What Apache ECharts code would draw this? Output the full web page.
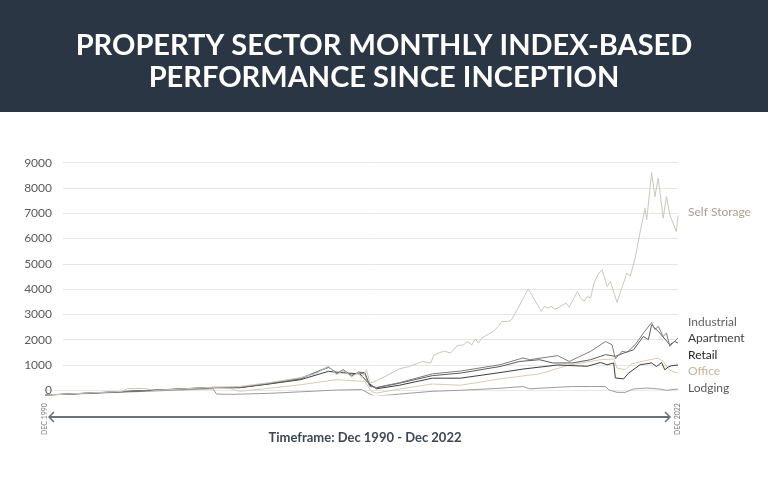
<!DOCTYPE html>
<html>
<head>
<meta charset="utf-8">
<script src="https://cdn.jsdelivr.net/npm/echarts@6/dist/echarts.min.js"></script>
<style>
html,body{margin:0;padding:0;background:#fff;}
#chart{width:768px;height:479px;}
</style>
</head>
<body>
<div id="chart"></div>
<script>
// x = months since Dec 1990 (0 .. 384 = Dec 2022)
var titleLines = ['PROPERTY SECTOR MONTHLY INDEX-BASED', 'PERFORMANCE SINCE INCEPTION'];
var yTicks = [0, 1000, 2000, 3000, 4000, 5000, 6000, 7000, 8000, 9000];
var seriesNames = ['Self Storage', 'Industrial', 'Apartment', 'Retail', 'Office', 'Lodging'];
var startLabel = 'DEC 1990';
var endLabel = 'DEC 2022';
var timeframe = 'Timeframe: Dec 1990 - Dec 2022';

var selfStorage = [[0,-190],[47,-40],[50,70],[60,70],[67,-5],[102,120],[118,150],[136,300],[155,500],[164,650],[172,950],[177,620],[181,800],[186,530],[190,700],[192,500],[195,820],[197,300],[199,320],[205,500],[215,850],[221,940],[229,1140],[234,1080],[236,1400],[242,1550],[246,1470],[250,1760],[254,1800],[256,1930],[259,1800],[261,2030],[263,1870],[265,2070],[272,2330],[275,2530],[277,2720],[281,2720],[283,2790],[287,3250],[293,4000],[294,3910],[297,3580],[301,3120],[303,3320],[305,3250],[307,3320],[309,3210],[311,3250],[316,3450],[318,3290],[323,3910],[325,3650],[327,3510],[329,3710],[331,3650],[333,4240],[336,4640],[338,4770],[341,4100],[343,4300],[347,3480],[353,4640],[355,4500],[358,5230],[361,6250],[364,7200],[365,6740],[368,8600],[370,7660],[372,8390],[375,6810],[377,7660],[379,6940],[380,7010],[383,6280],[384,6900]];
var industrial = [[0,-190],[102,110],[118,120],[136,280],[155,480],[172,900],[177,700],[181,780],[186,600],[190,680],[194,650],[197,150],[201,110],[215,300],[235,650],[252,760],[276,1010],[290,1280],[294,1210],[311,1370],[318,1140],[331,1540],[340,1930],[344,1800],[346,1240],[350,1540],[353,1500],[358,1800],[363,2260],[368,2680],[370,2400],[372,2530],[375,2130],[377,2260],[379,1740],[381,1870],[384,2070]];
var apartment = [[0,-190],[102,100],[118,110],[136,260],[155,450],[172,930],[177,650],[181,820],[186,560],[190,720],[194,700],[197,200],[201,100],[215,280],[235,580],[252,680],[276,940],[288,1140],[300,1210],[308,1080],[320,1080],[331,1210],[340,1410],[346,1340],[351,1470],[357,1600],[363,2130],[366,2000],[368,2590],[373,2260],[379,1800],[382,1930],[384,1870]];
var retail = [[0,-190],[102,115],[118,100],[136,250],[155,420],[172,750],[179,700],[191,650],[196,300],[201,60],[215,200],[235,480],[252,480],[276,700],[290,840],[311,1000],[329,950],[337,1100],[341,1010],[345,1080],[346,490],[351,450],[354,680],[361,1010],[368,1080],[371,940],[374,1100],[376,810],[378,920],[380,970],[384,1000]];
var office = [[0,-190],[102,100],[112,80],[118,-40],[136,80],[155,220],[177,420],[194,350],[198,-50],[201,-110],[215,50],[235,250],[252,200],[276,450],[300,650],[318,1000],[331,1140],[337,1210],[345,1240],[347,880],[352,810],[356,1050],[367,1210],[372,1270],[375,1140],[379,790],[384,680]];
var lodging = [[0,-190],[102,60],[104,-150],[114,-160],[136,-120],[155,-60],[177,10],[192,30],[200,-240],[215,-150],[235,-40],[252,0],[276,80],[290,150],[294,60],[320,150],[331,150],[340,150],[342,20],[347,-80],[352,-80],[357,50],[365,90],[373,50],[377,0],[384,50]];

var allData = [selfStorage, industrial, apartment, retail, office, lodging];
var lineColors = ['#cbc6bf', '#7e7e7e', '#5c5c5c', '#3c3c3c', '#d9cbb2', '#9c9c9c'];
var labelColors = ['#ab9f8f', '#5f6166', '#3a3a3a', '#242424', '#c9b493', '#585858'];
var labelY = [212, 322, 338, 355, 371, 388];

var chart = echarts.init(document.getElementById('chart'), null, {renderer: 'canvas'});

var series = allData.map(function (d, i) {
  return {
    name: seriesNames[i], type: 'line', xAxisIndex: 1, yAxisIndex: 1,
    data: d, showSymbol: false, symbol: 'none', silent: true,
    lineStyle: {color: lineColors[i], width: 1}, z: 10 - i
  };
});
series.push({type: 'line', xAxisIndex: 0, yAxisIndex: 0, data: [], silent: true});

var splitColors = ['rgba(0,0,0,0)', 'rgba(0,0,0,0)'];
for (var k = 0; k < 9; k++) splitColors.push('#e5e5e5');

var graphics = [
  {type: 'rect', shape: {x: 0, y: 0, width: 768, height: 112}, style: {fill: '#2b3645'}, z: 0},
  {type: 'line', shape: {x1: 49, y1: 417, x2: 670, y2: 417}, style: {stroke: '#6b7079', lineWidth: 2}},
  {type: 'polyline', shape: {points: [[54, 412], [49, 417], [54, 422]]}, style: {stroke: '#6b7079', lineWidth: 1.5, fill: null}},
  {type: 'polyline', shape: {points: [[665, 412], [670, 417], [665, 422]]}, style: {stroke: '#6b7079', lineWidth: 1.5, fill: null}},
  {type: 'text', x: 365, y: 438, style: {text: timeframe, fill: '#3d4652', font: 'bold 13px Lato', align: 'center', verticalAlign: 'middle'}}
];
seriesNames.forEach(function (n, i) {
  graphics.push({type: 'text', x: 688, y: labelY[i], style: {text: n, fill: labelColors[i], font: '12px Lato', align: 'left', verticalAlign: 'middle'}});
});

chart.setOption({
  animation: false,
  backgroundColor: '#ffffff',
  title: {
    text: titleLines.join('\n'), left: 'center', top: 25,
    textStyle: {color: '#ffffff', fontFamily: 'Lato', fontWeight: 'bold', fontSize: 29, lineHeight: 32}
  },
  graphic: graphics,
  grid: [
    {left: 63, right: 90, top: 162.7, bottom: 63.4},
    {left: 45, right: 90, top: 162.7, bottom: 83.9}
  ],
  xAxis: [
    {type: 'value', gridIndex: 0, min: 0, max: 384, show: false},
    {type: 'value', gridIndex: 1, min: 0, max: 384, interval: 384,
      axisLine: {show: true, lineStyle: {color: '#e8e8e8', width: 1}},
      axisTick: {show: false}, splitLine: {show: false},
      axisLabel: {show: true, rotate: 90, margin: 8, fontSize: 7, color: '#7a7a7a', fontFamily: 'Lato',
        showMinLabel: true, showMaxLabel: true,
        formatter: function (v) { return v === 0 ? startLabel : (v === 384 ? endLabel : ''); }}
    }
  ],
  yAxis: [
    {type: 'value', gridIndex: 0, min: -1000, max: 9000, interval: 1000,
      axisLine: {show: false}, axisTick: {show: false},
      axisLabel: {margin: 11, fontSize: 12, color: '#5a5a5a', fontFamily: 'Lato',
        formatter: function (v) { return yTicks.indexOf(v) >= 0 ? String(v) : ''; }},
      splitLine: {show: true, lineStyle: {color: splitColors, width: 1}}
    },
    {type: 'value', gridIndex: 1, min: -190, max: 9000, show: false, splitLine: {show: false}}
  ],
  series: series
});
</script>
</body>
</html>
